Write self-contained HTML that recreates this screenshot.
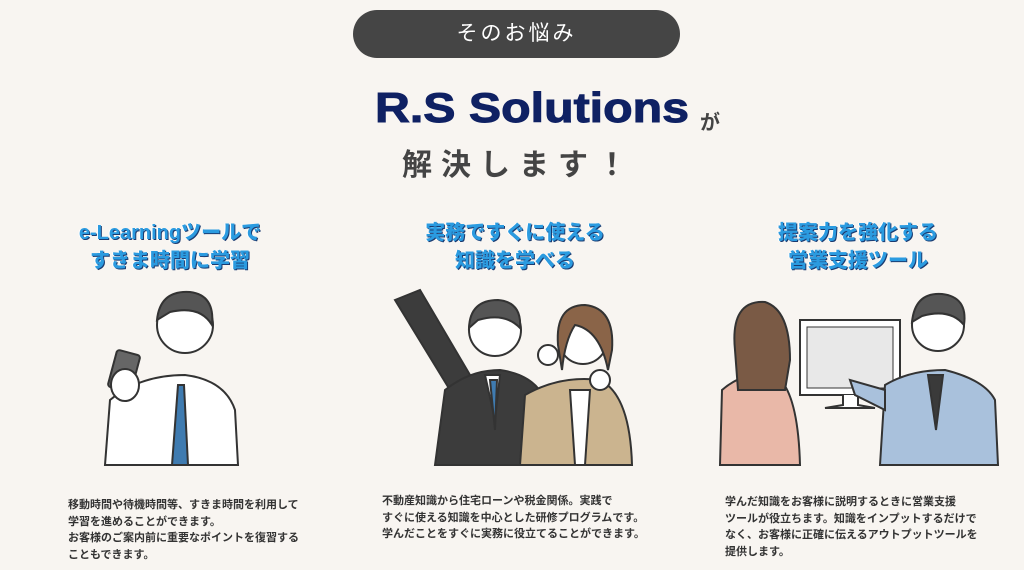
<!DOCTYPE html>
<html><head><meta charset="utf-8"><style>
body{margin:0;width:1024px;height:570px;background:#f8f5f1;position:relative;overflow:hidden;font-family:"Liberation Sans","Noto Sans CJK JP",sans-serif}
.a{position:absolute;white-space:nowrap}
.pill{left:353px;top:10px;width:327px;height:48px;background:#454545;border-radius:24px;color:#fff;font-size:21px;line-height:48px;text-align:center;letter-spacing:3px}
.h{color:#2b9be0;font-weight:900;font-size:20px;line-height:28px;text-align:center;text-shadow:1px 1px 0 #1b3b70,-1px 0 0 #fff}
.p{font-size:11px;font-weight:bold;color:#333;line-height:16.5px}
</style></head><body>
<div class="a pill">そのお悩み</div>
<div class="a" style="left:375px;top:84px;font-size:42px;font-weight:900;color:#0f2163;transform:scaleX(1.15);transform-origin:left top;-webkit-text-stroke:1px #0f2163">R.S Solutions</div>
<div class="a" style="left:700px;top:106px;font-size:20px;font-weight:bold;color:#444">が</div>
<div class="a" style="left:402px;top:140px;font-size:30px;font-weight:bold;color:#444;letter-spacing:9px">解決します！</div>
<div class="a h" style="left:40px;top:219px;width:260px">e-Learningツールで<br>すきま時間に学習</div>
<div class="a h" style="left:385px;top:219px;width:260px">実務ですぐに使える<br>知識を学べる</div>
<div class="a h" style="left:728px;top:219px;width:260px">提案力を強化する<br>営業支援ツール</div>
<svg class="a" style="left:0;top:280px" width="1024" height="190">
<g stroke="#333" stroke-width="2">
<path d="M105 185 L110 120 Q140 95 185 95 Q225 100 235 130 L238 185Z" fill="#fff"/>
<path d="M178 105 L172 185 L188 185 L184 105Z" fill="#3f7bb0"/>
<circle cx="185" cy="45" r="28" fill="#fff"/>
<path d="M157 40 Q160 10 190 12 Q215 15 212 45 Q200 25 170 32Z" fill="#555"/>
<rect x="112" y="72" width="24" height="38" rx="3" fill="#666" transform="rotate(15 124 91)"/>
<ellipse cx="125" cy="105" rx="14" ry="16" fill="#fff"/>
</g>
<g stroke="#333" stroke-width="2">
<path d="M395 20 L420 10 L470 95 L450 110Z" fill="#3c3c3c"/>
<path d="M435 185 L445 110 Q470 90 500 90 Q535 95 545 120 L555 185Z" fill="#3c3c3c"/>
<path d="M485 95 L500 95 L495 140Z" fill="#fff"/>
<path d="M490 100 L497 100 L495 150Z" fill="#3f7bb0"/>
<circle cx="495" cy="50" r="26" fill="#fff"/>
<path d="M469 48 Q470 20 498 20 Q522 22 520 48 Q505 32 478 40Z" fill="#555"/>
<path d="M520 185 L525 115 Q560 95 600 100 Q630 115 632 185Z" fill="#cbb48f"/>
<path d="M570 110 L590 110 L585 185 L575 185Z" fill="#fff"/>
<circle cx="583" cy="60" r="24" fill="#fff"/>
<path d="M558 65 Q555 25 585 25 Q615 28 612 70 L608 90 Q600 50 575 45 Q565 60 562 90Z" fill="#8a6448"/>
<circle cx="548" cy="75" r="10" fill="#fff"/>
<circle cx="600" cy="100" r="10" fill="#fff"/>
</g>
<g stroke="#333" stroke-width="2">
<path d="M720 185 L722 110 Q745 90 775 95 Q798 110 800 185Z" fill="#e9b8a8"/>
<path d="M735 70 Q730 20 765 22 Q790 30 790 80 L785 110 L738 110Z" fill="#7a5a45"/>
<rect x="800" y="40" width="100" height="75" fill="#fff"/>
<rect x="807" y="47" width="86" height="61" fill="#e8e8e8" stroke-width="1"/>
<path d="M843 115 L843 125 L825 128 L875 128 L858 125 L858 115" fill="#fff"/>
<path d="M880 185 L885 105 Q910 90 945 90 Q985 100 995 120 L998 185Z" fill="#a9c1dc"/>
<path d="M928 95 L943 95 L936 150Z" fill="#3a3a3a"/>
<circle cx="938" cy="45" r="26" fill="#fff"/>
<path d="M912 42 Q915 12 942 14 Q968 17 964 45 Q950 28 922 36Z" fill="#555"/>
<path d="M885 110 L850 100 L855 115 L885 130Z" fill="#a9c1dc"/>
</g>
</svg>
<div class="a p" style="left:68px;top:497px">移動時間や待機時間等、すきま時間を利用して<br>学習を進めることができます。<br>お客様のご案内前に重要なポイントを復習する<br>こともできます。</div>
<div class="a p" style="left:382px;top:493px">不動産知識から住宅ローンや税金関係。実践で<br>すぐに使える知識を中心とした研修プログラムです。<br>学んだことをすぐに実務に役立てることができます。</div>
<div class="a p" style="left:725px;top:494px">学んだ知識をお客様に説明するときに営業支援<br>ツールが役立ちます。知識をインプットするだけで<br>なく、お客様に正確に伝えるアウトプットツールを<br>提供します。</div>
</body></html>
